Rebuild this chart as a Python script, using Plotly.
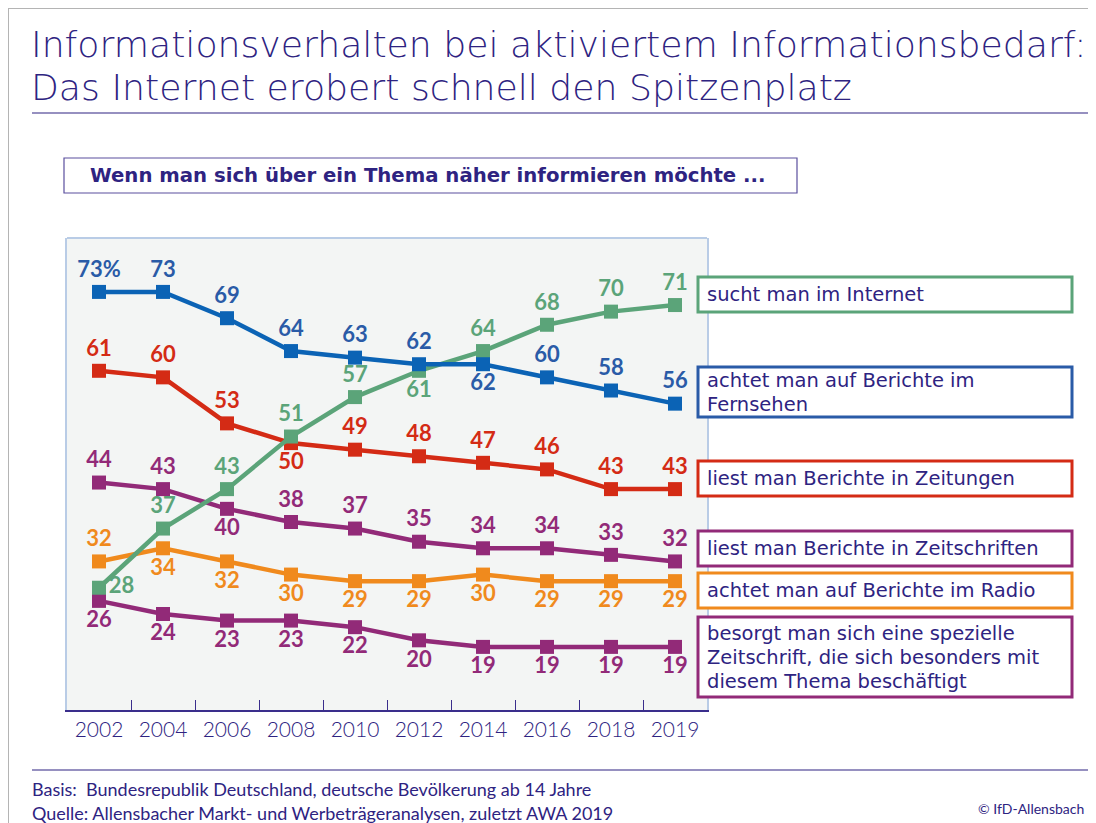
import plotly.graph_objects as go

# data
years = ["2002", "2004", "2006", "2008", "2010", "2012", "2014", "2016", "2018", "2019"]
internet = [28, 37, 43, 51, 57, 61, 64, 68, 70, 71]
fernsehen = [73, 73, 69, 64, 63, 62, 62, 60, 58, 56]
zeitungen = [61, 60, 53, 50, 49, 48, 47, 46, 43, 43]
zeitschriften = [44, 43, 40, 38, 37, 35, 34, 34, 33, 32]
radio = [32, 34, 32, 30, 29, 29, 30, 29, 29, 29]
spezial = [26, 24, 23, 23, 22, 20, 19, 19, 19, 19]

NAVY = "#2E2381"
FONT = "Lato"

# page body has an 8px margin, so the figure is drawn 8px smaller
OFF = 8
W, H = 1096 - OFF, 823 - OFF
L, R, T, B = 67, 707, 238, 710  # plot area in reference pixels


def px(x):
    return (x - L) / (R - L)


def py(y):
    return (B - y) / (B - T)


T_TOP = "top center"
T_BOT = "bottom center"

# (values, line colour, label colour, label positions, first label), drawn bottom to top
series = [
    (spezial, "#922A78", "#922A78", [T_BOT] * 10, None),
    (radio, "#F08A1D", "#F08A1D", [T_TOP] + [T_BOT] * 9, None),
    (zeitschriften, "#922A78", "#922A78", [T_TOP, T_TOP, T_BOT] + [T_TOP] * 7, None),
    (zeitungen, "#D42B15", "#D42B15", [T_TOP] * 3 + [T_BOT] + [T_TOP] * 6, None),
    (internet, "#5BA479", "#5BA479", ["middle right"] + [T_TOP] * 4 + [T_BOT] + [T_TOP] * 4, None),
    (fernsehen, "#0B63B5", "#2A5BA7", [T_TOP] * 6 + [T_BOT] + [T_TOP] * 3, "73%"),
]

fig = go.Figure()
for vals, col, tcol, pos, first in series:
    labels = [str(v) for v in vals]
    if first:
        labels[0] = first
    fig.add_trace(go.Scatter(
        x=years, y=vals, mode="lines+markers+text",
        line=dict(color=col, width=4.5),
        marker=dict(symbol="square", size=14, color=col),
        text=labels, textposition=pos,
        textfont=dict(family=FONT, size=22, color=tcol, weight=700),
        cliponaxis=False, hoverinfo="skip", showlegend=False,
    ))

shapes = []
annotations = []

# outer frame (left and top only visible)
shapes.append(dict(type="line", xref="paper", yref="paper", x0=px(8), x1=px(1110), y0=py(8), y1=py(8),
                   line=dict(color="#B4B4B4", width=2)))
shapes.append(dict(type="line", xref="paper", yref="paper", x0=px(8), x1=px(8), y0=py(8), y1=py(840),
                   line=dict(color="#B4B4B4", width=2)))

# title
for txt, yc in [("Informationsverhalten bei aktiviertem Informationsbedarf:", 44),
                ("Das Internet erobert schnell den Spitzenplatz", 87)]:
    annotations.append(dict(text=txt, xref="paper", yref="paper", x=px(30), y=py(yc),
                            xanchor="left", yanchor="middle", showarrow=False, borderpad=0,
                            font=dict(family="DejaVu Sans", size=36.2, color=NAVY, weight=200)))
shapes.append(dict(type="line", xref="paper", yref="paper", x0=px(32), x1=px(1110), y0=py(113), y1=py(113),
                   line=dict(color=NAVY, width=1.2)))

# subtitle box
shapes.append(dict(type="rect", xref="paper", yref="paper", x0=px(64), x1=px(797), y0=py(158), y1=py(193),
                   line=dict(color="#5A4F9E", width=1.2), fillcolor="white"))
annotations.append(dict(text="Wenn man sich über ein Thema näher informieren möchte ...",
                        xref="paper", yref="paper", x=px(88), y=py(176), xanchor="left", yanchor="middle",
                        showarrow=False, font=dict(family="DejaVu Sans", size=19.7, color=NAVY, weight=700)))

# plot area top border
shapes.append(dict(type="line", xref="paper", yref="paper", x0=0, x1=1, y0=1, y1=1,
                   line=dict(color="#B9CCE6", width=2)))

# legend boxes
legend_items = [
    (["sucht man im Internet"], "#5BA479", 277, 312),
    (["achtet man auf Berichte im", "Fernsehen"], "#2A5BA7", 367, 417),
    (["liest man Berichte in Zeitungen"], "#D42B15", 461, 496),
    (["liest man Berichte in Zeitschriften"], "#922A78", 531, 566),
    (["achtet man auf Berichte im Radio"], "#F08A1D", 573, 608),
    (["besorgt man sich eine spezielle", "Zeitschrift, die sich besonders mit",
      "diesem Thema beschäftigt"], "#922A78", 617, 697),
]
for lines, col, y0, y1 in legend_items:
    shapes.append(dict(type="rect", xref="paper", yref="paper", x0=px(698), x1=px(1072), y0=py(y0), y1=py(y1),
                       line=dict(color=col, width=3), fillcolor="white"))
    n = len(lines)
    step = 24
    yc0 = (y0 + y1) / 2 - step * (n - 1) / 2
    for i, ln in enumerate(lines):
        annotations.append(dict(text=ln, xref="paper", yref="paper", x=px(706), y=py(yc0 + i * step),
                                xanchor="left", yanchor="middle", showarrow=False, borderpad=0,
                                font=dict(family="DejaVu Sans", size=19.5, color=NAVY)))

# footer
shapes.append(dict(type="line", xref="paper", yref="paper", x0=px(32), x1=px(1110), y0=py(770), y1=py(770),
                   line=dict(color=NAVY, width=1.2)))
for txt, yc in [("Basis:  Bundesrepublik Deutschland, deutsche Bevölkerung ab 14 Jahre", 789),
                ("Quelle: Allensbacher Markt- und Werbeträgeranalysen, zuletzt AWA 2019", 813)]:
    annotations.append(dict(text=txt, xref="paper", yref="paper", x=px(30), y=py(yc),
                            xanchor="left", yanchor="middle", showarrow=False,
                            font=dict(family=FONT, size=18, color=NAVY)))
annotations.append(dict(text="© IfD-Allensbach", xref="paper", yref="paper", x=px(1086), y=py(808),
                        xanchor="right", yanchor="middle", showarrow=False,
                        font=dict(family=FONT, size=14, color=NAVY)))

fig.update_layout(
    width=W, height=H, autosize=False,
    margin=dict(l=L - OFF, r=W - (R - OFF), t=T - OFF, b=H - (B - OFF), pad=0),
    paper_bgcolor="white", plot_bgcolor="#F3F5F4",
    shapes=shapes, annotations=annotations,
    xaxis=dict(type="category", range=[-0.5, 9.5], showgrid=False, zeroline=False,
               showline=True, linecolor="#3A2E8C", linewidth=1.5,
               ticks="inside", tickson="boundaries", ticklen=10, tickcolor="#3A2E8C", tickwidth=1,
               tickfont=dict(family=FONT, size=21, color=NAVY, weight=300)),
    yaxis=dict(range=[9.4, 81.2], showgrid=False, zeroline=False, showticklabels=False,
               showline=True, linecolor="#B9CCE6", linewidth=2, mirror=True, ticks=""),
    hovermode=False,
)

fig.write_html("out.html")
